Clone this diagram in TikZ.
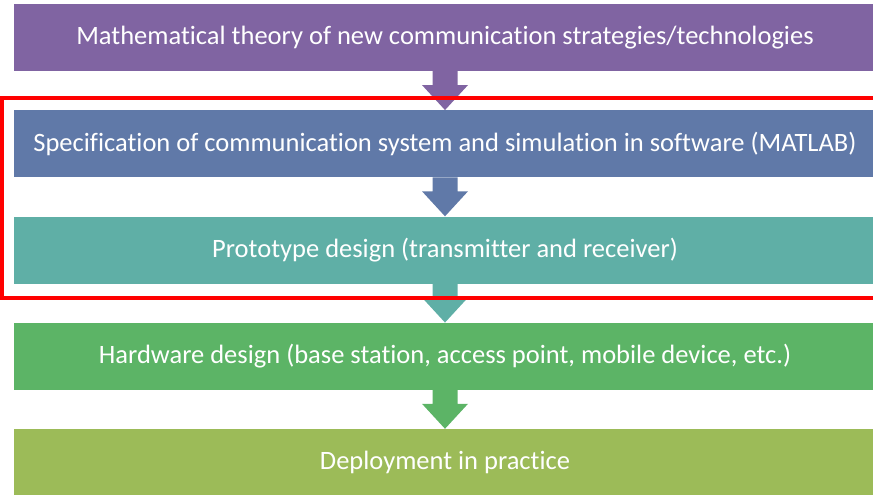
\documentclass[tikz,border=0pt]{standalone}
\usepackage{fontspec}
\setmainfont[Ligatures={NoCommon}]{Carlito}
\usetikzlibrary{calc}

\definecolor{stageA}{HTML}{8064A2}
\definecolor{stageB}{HTML}{6079A8}
\definecolor{stageC}{HTML}{5FAFA6}
\definecolor{stageD}{HTML}{5CB466}
\definecolor{stageE}{HTML}{9CBB58}
\definecolor{frameRed}{HTML}{FF0000}

% block arrow from the bottom of one stage to the top of the next
% (y axis points down, so negative offsets lie above an anchor)
\newcommand{\flowarrow}[3]{%
  \fill[#3] ($(#1.south)+(-12.5,0)$) -- ($(#2.north)+(-12.5,-25)$)
    -- ($(#2.north)+(-23,-25)$) -- (#2.north) -- ($(#2.north)+(23,-25)$)
    -- ($(#2.north)+(12.5,-25)$) -- ($(#1.south)+(12.5,0)$) -- cycle;}

\begin{document}
\begin{tikzpicture}[x=1pt,y=-1pt,
  stagebox/.style={rectangle, inner sep=0pt, minimum width=862pt,
    minimum height=67pt, text=white, font=\fontsize{26.5}{30}\selectfont}]
\useasboundingbox (0,0) rectangle (873,495);

\node[stagebox, fill=stageA] (s1) at (445,37.5)
  {Mathematical theory of new communication strategies/technologies};
\node[stagebox, fill=stageB] (s2) at (445,143.75)
  {Specification of communication system and simulation in software (MATLAB)};
\node[stagebox, fill=stageC] (s3) at (445,250)
  {Prototype design (transmitter and receiver)};
\node[stagebox, fill=stageD] (s4) at (445,356.25)
  {Hardware design (base station, access point, mobile device, etc.)};
\node[stagebox, fill=stageE] (s5) at (445,462.5)
  {Deployment in practice};

\flowarrow{s1}{s2}{stageA}
\flowarrow{s2}{s3}{stageB}
\flowarrow{s3}{s4}{stageC}
\flowarrow{s4}{s5}{stageD}

% highlight frame around the simulation and prototype stages
\draw[frameRed, line width=4pt] (1.5,98) rectangle (885,298);
\end{tikzpicture}
\end{document}
